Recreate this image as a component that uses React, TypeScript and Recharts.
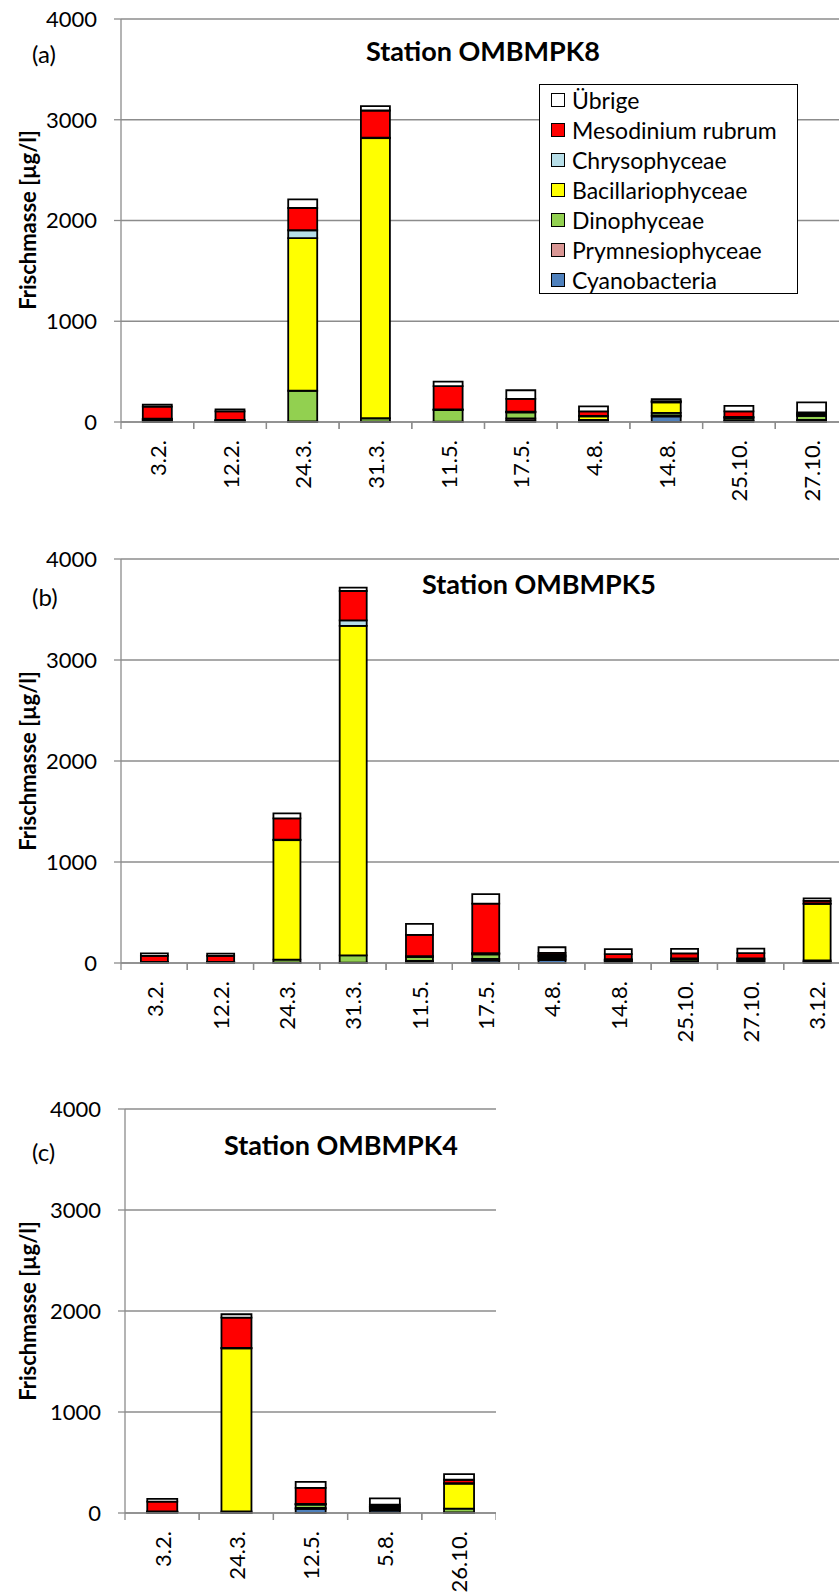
import React from 'react';
import { BarChart, Bar, XAxis, YAxis, CartesianGrid, Legend } from 'recharts';

const FONT = 'Lato, "Open Sans", sans-serif';
const GRID = '#8c8c8c';

const SERIES = [
  { key: 'cyano', name: 'Cyanobacteria', color: '#4F81BD' },
  { key: 'prym', name: 'Prymnesiophyceae', color: '#D99694' },
  { key: 'dino', name: 'Dinophyceae', color: '#92D050' },
  { key: 'bacil', name: 'Bacillariophyceae', color: '#FFFF00' },
  { key: 'chryso', name: 'Chrysophyceae', color: '#B7DEE8' },
  { key: 'meso', name: 'Mesodinium rubrum', color: '#FF0000' },
  { key: 'uebrige', name: 'Übrige', color: '#FFFFFF' },
];

const Y_TICKS = [0, 1000, 2000, 3000, 4000];

// (a) Station OMBMPK8
const A_DATES = ['3.2.', '12.2.', '24.3.', '31.3.', '11.5.', '17.5.', '4.8.', '14.8.', '25.10.', '27.10.'];
const A_CYANO = [5, 3, 3, 2, 2, 15, 8, 55, 10, 10];
const A_PRYM = [5, 3, 3, 2, 2, 20, 5, 10, 8, 10];
const A_DINO = [12, 8, 304, 33, 115, 60, 8, 25, 20, 40];
const A_BACIL = [8, 4, 1516, 2780, 3, 5, 35, 105, 8, 15];
const A_CHRYSO = [3, 2, 77, 5, 3, 3, 5, 5, 5, 5];
const A_MESO = [120, 86, 221, 270, 232, 126, 45, 8, 55, 15];
const A_UEBRIGE = [20, 20, 86, 43, 43, 86, 50, 20, 55, 100];

// (b) Station OMBMPK5
const B_DATES = ['3.2.', '12.2.', '24.3.', '31.3.', '11.5.', '17.5.', '4.8.', '14.8.', '25.10.', '27.10.', '3.12.'];
const B_CYANO = [2, 2, 2, 2, 10, 25, 30, 8, 8, 10, 5];
const B_PRYM = [3, 3, 2, 2, 10, 15, 15, 8, 8, 10, 5];
const B_DINO = [3, 3, 30, 72, 40, 45, 15, 10, 20, 12, 15];
const B_BACIL = [2, 2, 1182, 3261, 5, 8, 10, 6, 5, 8, 560];
const B_CHRYSO = [1, 2, 5, 56, 3, 5, 10, 5, 4, 6, 5];
const B_MESO = [60, 58, 211, 290, 210, 490, 20, 50, 50, 52, 25];
const B_UEBRIGE = [25, 22, 50, 33, 110, 93, 56, 50, 45, 45, 25];

// (c) Station OMBMPK4
const C_DATES = ['3.2.', '24.3.', '12.5.', '5.8.', '26.10.'];
const C_CYANO = [3, 2, 40, 25, 3];
const C_PRYM = [3, 2, 10, 12, 3];
const C_DINO = [5, 12, 32, 15, 38];
const C_BACIL = [3, 1614, 5, 8, 246];
const C_CHRYSO = [2, 4, 3, 8, 5];
const C_MESO = [96, 300, 158, 15, 34];
const C_UEBRIGE = [27, 34, 60, 62, 55];

const rowsOf = (dates: string[], cols: number[][]) =>
  dates.map((date, i) => {
    const row: Record<string, string | number> = { date };
    SERIES.forEach((s, k) => {
      row[s.key] = cols[k][i];
    });
    return row;
  });

const ROWS_A = rowsOf(A_DATES, [A_CYANO, A_PRYM, A_DINO, A_BACIL, A_CHRYSO, A_MESO, A_UEBRIGE]);
const ROWS_B = rowsOf(B_DATES, [B_CYANO, B_PRYM, B_DINO, B_BACIL, B_CHRYSO, B_MESO, B_UEBRIGE]);
const ROWS_C = rowsOf(C_DATES, [C_CYANO, C_PRYM, C_DINO, C_BACIL, C_CHRYSO, C_MESO, C_UEBRIGE]);

const LegendBox = () => (
  <div
    style={{
      border: '1.5px solid #000',
      background: '#fff',
      width: 259,
      height: 210,
      boxSizing: 'border-box',
      padding: '0 0 0 11px',
      fontFamily: FONT,
      fontSize: 23,
      color: '#000',
    }}
  >
    {[...SERIES].reverse().map(s => (
      <div key={s.key} style={{ display: 'flex', alignItems: 'center', height: 30 }}>
        <span
          style={{
            display: 'inline-block',
            width: 14,
            height: 14,
            border: '1.5px solid #000',
            background: s.color,
            boxSizing: 'border-box',
            marginRight: 7,
          }}
        />
        <span>{s.name}</span>
      </div>
    ))}
  </div>
);

const makeTick = (band: number) => (props: any) => {
  const { x, y, payload } = props;
  const ty = y + 18;
  return (
    <g>
      <line x1={x - band / 2} x2={x - band / 2} y1={y} y2={y + 7} stroke={GRID} strokeWidth={1.3} />
      <line x1={x + band / 2} x2={x + band / 2} y1={y} y2={y + 7} stroke={GRID} strokeWidth={1.3} />
      <text
        x={x}
        y={ty}
        transform={`rotate(-90, ${x}, ${ty})`}
        textAnchor="end"
        dominantBaseline="central"
        fill="#000"
        fontSize={22}
        fontFamily={FONT}
      >
        {payload.value}
      </text>
    </g>
  );
};

interface PanelProps {
  top: number;
  width: number;
  height: number;
  yAxisWidth: number;
  xAxisHeight: number;
  rows: Record<string, string | number>[];
  legend?: boolean;
}

const Panel: React.FC<PanelProps> = ({ top, width, height, yAxisWidth, xAxisHeight, rows, legend }) => {
  const band = (width - yAxisWidth) / rows.length;
  return (
    <div style={{ position: 'absolute', left: 0, top }}>
      <BarChart
        width={width}
        height={height}
        data={rows}
        margin={{ top: 19, right: 0, bottom: 0, left: 0 }}
        barCategoryGap="30%"
      >
        <CartesianGrid vertical={false} stroke={GRID} strokeWidth={1.3} />
        <XAxis
          dataKey="date"
          height={xAxisHeight}
          interval={0}
          tickSize={0}
          tickMargin={0}
          tickLine={false}
          axisLine={{ stroke: GRID, strokeWidth: 1.3 }}
          tick={makeTick(band)}
        />
        <YAxis
          domain={[0, 4000]}
          ticks={Y_TICKS}
          interval={0}
          width={yAxisWidth}
          tickSize={7}
          tickMargin={17}
          axisLine={{ stroke: GRID, strokeWidth: 1.3 }}
          tickLine={{ stroke: GRID, strokeWidth: 1.3 }}
          tick={{ fill: '#000', fontSize: 22, fontFamily: FONT }}
        />
        {legend && (
          <Legend
            layout="vertical"
            align="center"
            verticalAlign="middle"
            content={() => <LegendBox />}
            wrapperStyle={{ left: 539, top: 84, width: 259, height: 210 }}
          />
        )}
        {SERIES.map(s => (
          <Bar
            key={s.key}
            dataKey={s.key}
            name={s.name}
            stackId="a"
            fill={s.color}
            stroke="#000"
            strokeWidth={1.8}
            isAnimationActive={false}
          />
        ))}
      </BarChart>
    </div>
  );
};

const AxisTitle = ({ cy }: { cy: number }) => (
  <text
    x={27}
    y={cy}
    transform={`rotate(-90, 27, ${cy})`}
    textAnchor="middle"
    dominantBaseline="central"
    fontFamily={FONT}
    fontWeight="bold"
    fontSize={22}
    fill="#000"
  >
    Frischmasse [µg/l]
  </text>
);

const App = () => (
  <div
    style={{
      position: 'absolute',
      left: 0,
      top: 0,
      width: 839,
      height: 1595,
      overflow: 'hidden',
      background: '#fff',
    }}
  >
    <Panel top={0} width={848} height={510} yAxisWidth={121} xAxisHeight={88} rows={ROWS_A} legend />
    <Panel top={540} width={850} height={510} yAxisWidth={121} xAxisHeight={87} rows={ROWS_B} />
    <Panel top={1090} width={496} height={505} yAxisWidth={125} xAxisHeight={82} rows={ROWS_C} />
    <svg
      width={839}
      height={1595}
      style={{ position: 'absolute', left: 0, top: 0, pointerEvents: 'none' }}
    >
      <g fontFamily={FONT} fill="#000">
        <text x={32} y={53} fontSize={24} dominantBaseline="central">(a)</text>
        <text x={32} y={596} fontSize={24} dominantBaseline="central">(b)</text>
        <text x={32} y={1151} fontSize={24} dominantBaseline="central">(c)</text>
        <text x={366} y={50} fontSize={27} fontWeight="bold" dominantBaseline="central">Station OMBMPK8</text>
        <text x={422} y={583} fontSize={27} fontWeight="bold" dominantBaseline="central">Station OMBMPK5</text>
        <text x={224} y={1144} fontSize={27} fontWeight="bold" dominantBaseline="central">Station OMBMPK4</text>
      </g>
      <AxisTitle cy={220} />
      <AxisTitle cy={761} />
      <AxisTitle cy={1311} />
    </svg>
  </div>
);

export default App;
